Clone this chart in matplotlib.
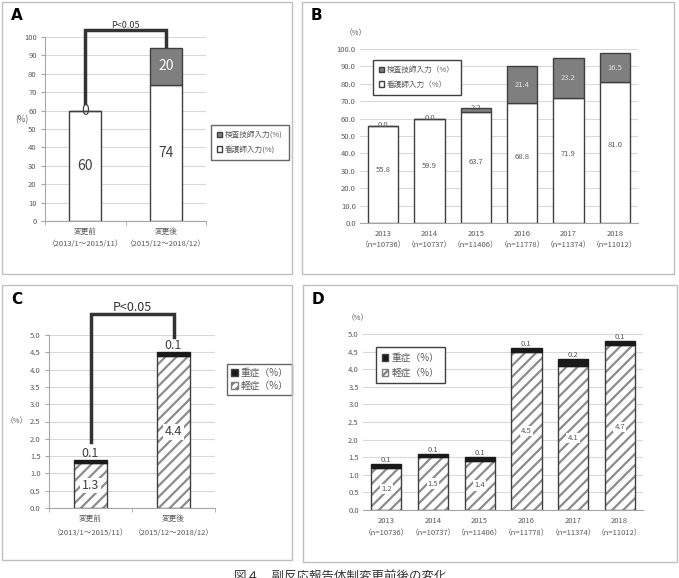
import matplotlib.pyplot as plt
from matplotlib.patches import Rectangle, Patch
from matplotlib.ticker import FormatStrFormatter

plt.rcParams['font.family'] = ['Noto Sans CJK JP', 'DejaVu Sans']
plt.rcParams['hatch.linewidth'] = 1.6

# ---- data ----
period_labels = ['変更前\n（2013/1～2015/11）', '変更後\n（2015/12～2018/12）']
year_labels = ['2013\n（n=10736）', '2014\n（n=10737）', '2015\n（n=11406）',
               '2016\n（n=11778）', '2017\n（n=11374）', '2018\n（n=11012）']

a_nurse = [60, 74]
a_tech = [0, 20]
b_nurse = [55.8, 59.9, 63.7, 68.8, 71.9, 81.0]
b_tech = [0.0, 0.0, 2.2, 21.4, 23.2, 16.5]
c_mild = [1.3, 4.4]
c_severe = [0.1, 0.1]
d_mild = [1.2, 1.5, 1.4, 4.5, 4.1, 4.7]
d_severe = [0.1, 0.1, 0.1, 0.1, 0.2, 0.1]

W, H = 679, 578
fig = plt.figure(figsize=(W / 100, H / 100), dpi=100)

def px_axes(l, r, t, b):
    # pixel box -> figure fraction axes
    return fig.add_axes([l / W, 1 - b / H, (r - l) / W, (b - t) / H])

edge = '#404040'
grid_c = '#d9d9d9'
txt_c = '#595959'
gray = '#7f7f7f'

# panel frames + letters
for (l, t, r, b), letter in [((2, 2, 292, 274), 'A'), ((302, 2, 674, 274), 'B'),
                             ((2, 285, 292, 560), 'C'), ((303, 285, 677, 562), 'D')]:
    fig.patches.append(Rectangle((l / W, 1 - b / H), (r - l) / W, (b - t) / H,
                                 transform=fig.transFigure, fill=False,
                                 edgecolor='#bfbfbf', linewidth=1))
    fig.text((l + 9) / W, 1 - (t + 14) / H, letter, fontsize=11, fontweight='bold',
             va='center', ha='left', family='DejaVu Sans')


def style(ax, ymax, step, fmt, axis_line):
    ax.set_ylim(0, ymax)
    ax.set_yticks([i * step for i in range(int(round(ymax / step)) + 1)])
    ax.yaxis.set_major_formatter(FormatStrFormatter(fmt))
    ax.grid(axis='y', color=grid_c, linewidth=0.8)
    ax.set_axisbelow(True)
    for s in ['top', 'right']:
        ax.spines[s].set_visible(False)
    ax.spines['bottom'].set_color('#a6a6a6')
    ax.spines['left'].set_color('#a6a6a6')
    ax.spines['left'].set_visible(axis_line)
    ax.tick_params(axis='y', labelsize=5.5, colors=txt_c, length=3 if axis_line else 0,
                   color='#a6a6a6', pad=3)
    ax.tick_params(axis='x', labelsize=5.5, colors=txt_c, length=0, pad=5)
    ax.set_facecolor('none')


def bracket(ax, x0, x1, y0, y1, ytop, label, fs):
    ax.plot([x0, x0, x1, x1], [y0, ytop, ytop, y1], color='#333333', lw=2.5,
            clip_on=False, solid_joinstyle='miter')
    ax.text((x0 + x1) / 2, ytop, label, ha='center', va='bottom', fontsize=fs,
            color='#333333')

# ---- A ----
ax = px_axes(45, 206, 37, 221)
xa = range(len(period_labels))
ax.bar(xa, a_nurse, 0.4, color='white', edgecolor=edge, lw=1)
ax.bar(xa, a_tech, 0.4, bottom=a_nurse, color=gray, edgecolor=edge, lw=1)
style(ax, 100, 10, '%d', True)
ax.set_xlim(-0.5, 1.5)
ax.set_xticks(list(xa))
ax.set_xticklabels(period_labels, linespacing=1.6)
ax.set_xticks([-0.5, 0.5, 1.5], minor=True)
ax.tick_params(axis='x', which='minor', length=3, color='#a6a6a6')
for i in xa:
    ax.text(i, a_nurse[i] / 2, str(a_nurse[i]), ha='center', va='center',
            fontsize=10, color='#404040')
    if a_tech[i] > 0:
        ax.text(i, a_nurse[i] + a_tech[i] / 2, str(a_tech[i]), ha='center',
                va='center', fontsize=10, color='white')
    else:
        ax.text(i, a_nurse[i], str(a_tech[i]), ha='center', va='center',
                fontsize=10, color='#404040')
bracket(ax, 0, 1, 64, 95, 104, 'P<0.05', 6.5)
fig.text(15 / W, 1 - 120 / H, '(%)', fontsize=6, color=txt_c, va='center')
ax.legend(handles=[Patch(facecolor=gray, edgecolor=edge, label='検査技師入力(%)'),
                   Patch(facecolor='white', edgecolor=edge, label='看護師入力(%)')],
          loc='upper left', bbox_to_anchor=(207 / W, 1 - 121 / H),
          bbox_transform=fig.transFigure, fontsize=5.5, frameon=True, fancybox=False,
          edgecolor=edge, handlelength=0.7, handleheight=0.7, handletextpad=0.3,
          labelcolor=txt_c, borderpad=0.8, labelspacing=0.9)

# ---- B ----
ax = px_axes(360, 638, 49, 223)
xb = range(len(year_labels))
ax.bar(xb, b_nurse, 0.65, color='white', edgecolor=edge, lw=1)
ax.bar(xb, b_tech, 0.65, bottom=b_nurse, color=gray, edgecolor=edge, lw=1)
style(ax, 100, 10, '%.1f', False)
ax.set_xlim(-0.5, 5.5)
ax.set_xticks(list(xb))
ax.set_xticklabels(year_labels, linespacing=1.6)
for i in xb:
    ax.text(i, b_nurse[i] * 0.55, f'{b_nurse[i]:.1f}', ha='center', va='center',
            fontsize=5.5, color=txt_c)
    if b_tech[i] > 5:
        ax.text(i, b_nurse[i] + b_tech[i] / 2, f'{b_tech[i]:.1f}', ha='center',
                va='center', fontsize=5.5, color='#e0e0e0')
    else:
        ax.text(i, b_nurse[i] + b_tech[i] + 0.3, f'{b_tech[i]:.1f}', ha='center',
                va='center', fontsize=5.5, color=txt_c)
fig.text(345 / W, 1 - 33 / H, '（%）', fontsize=5.5, color=txt_c, va='center')
ax.legend(handles=[Patch(facecolor=gray, edgecolor=edge, label='検査技師入力（%）'),
                   Patch(facecolor='white', edgecolor=edge, label='看護師入力（%）')],
          loc='upper left', bbox_to_anchor=(369 / W, 1 - 56 / H),
          bbox_transform=fig.transFigure, fontsize=5.5, frameon=True, fancybox=False,
          edgecolor=edge, handlelength=0.7, handleheight=0.7, handletextpad=0.3,
          labelcolor=txt_c, borderpad=0.8, labelspacing=0.9, framealpha=1)


def hatched(ax, x, h, w):
    ax.bar(x, h, w, color='white', edgecolor='#8c8c8c', hatch='///', lw=0)
    ax.bar(x, h, w, fill=False, edgecolor=edge, lw=1)

# ---- C ----
ax = px_axes(49, 215, 335, 508)
xc = range(len(period_labels))
hatched(ax, xc, c_mild, 0.4)
ax.bar(xc, c_severe, 0.4, bottom=c_mild, color='#1a1a1a', edgecolor='#1a1a1a', lw=1)
style(ax, 5, 0.5, '%.1f', True)
ax.set_xlim(-0.5, 1.5)
ax.set_xticks(list(xc))
ax.set_xticklabels(period_labels, linespacing=2.0)
ax.set_xticks([-0.5, 0.5, 1.5], minor=True)
ax.tick_params(axis='x', which='minor', length=3, color='#a6a6a6')
for i in xc:
    ax.text(i, c_mild[i] / 2, f'{c_mild[i]:.1f}',
            ha='center', va='center', fontsize=9, color='#404040',
            bbox=dict(facecolor='white', edgecolor='none', pad=1))
    ax.text(i, c_mild[i] + c_severe[i], f'{c_severe[i]:.1f}', ha='center',
            va='bottom', fontsize=9, color='#404040')
bracket(ax, 0, 1, 1.9, 4.95, 5.6, 'P<0.05', 9)
fig.text(6 / W, 1 - 421 / H, '（%）', fontsize=5.5, color=txt_c, va='center')
ax.legend(handles=[Patch(facecolor='#1a1a1a', edgecolor=edge, label='重症（%）'),
                   Patch(facecolor='white', edgecolor='#7f7f7f', hatch='////',
                         label='軽症（%）')],
          loc='upper left', bbox_to_anchor=(222 / W, 1 - 359 / H),
          bbox_transform=fig.transFigure, fontsize=7, frameon=True, fancybox=False,
          edgecolor=edge, handlelength=0.7, handleheight=0.7, handletextpad=0.3,
          labelcolor=txt_c, borderpad=0.4, labelspacing=0.3)

# ---- D ----
ax = px_axes(363, 643, 334, 510)
xd = range(len(year_labels))
hatched(ax, xd, d_mild, 0.65)
ax.bar(xd, d_severe, 0.65, bottom=d_mild, color='#1a1a1a', edgecolor='#1a1a1a', lw=1)
style(ax, 5, 0.5, '%.1f', False)
ax.set_xlim(-0.5, 5.5)
ax.set_xticks(list(xd))
ax.set_xticklabels(year_labels, linespacing=1.8)
for i in xd:
    ax.text(i, d_mild[i] / 2, f'{d_mild[i]:.1f}', ha='center', va='center',
            fontsize=5.5, color=txt_c,
            bbox=dict(facecolor='white', edgecolor='none', pad=0.8))
    ax.text(i, d_mild[i] + d_severe[i], f'{d_severe[i]:.1f}', ha='center',
            va='bottom', fontsize=5.5, color=txt_c)
fig.text(347 / W, 1 - 318 / H, '（%）', fontsize=5.5, color=txt_c, va='center')
ax.legend(handles=[Patch(facecolor='#1a1a1a', edgecolor=edge, label='重症（%）'),
                   Patch(facecolor='white', edgecolor='#7f7f7f', hatch='////',
                         label='軽症（%）')],
          loc='upper left', bbox_to_anchor=(371 / W, 1 - 342 / H),
          bbox_transform=fig.transFigure, fontsize=7, frameon=True, fancybox=False,
          edgecolor=edge, handlelength=0.7, handleheight=0.7, handletextpad=0.3,
          labelcolor=txt_c, borderpad=0.6, labelspacing=0.5, framealpha=1)

# caption (cut off at the bottom edge in the original)
fig.text(340 / W, 1 - 571 / H, '図４　副反応報告体制変更前後の変化', ha='center', va='top',
         fontsize=9, color='#333333')

fig.savefig('out.png', dpi=100)
